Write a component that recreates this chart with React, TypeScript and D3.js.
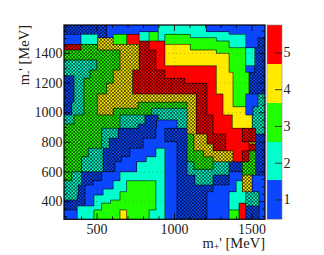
import React from 'react';
import * as d3 from 'd3';

const W = 324;
const H = 255;
const left = 64, right = 265, top = 25, bottom = 219.3;

const xRange = [290, 1572];
const yRange = [275, 1597];
const xAxisRange = [287, 1584];
const yAxisRange = [281, 1591.5];
const zRange = [0.474, 5.76];

const xTicks = [500, 1000, 1500];
const yTicks = [400, 600, 800, 1000, 1200, 1400];
const zTicks = [1, 2, 3, 4, 5];

const levelColors: Record<string, string> = {
  b: '#0a46ff',
  c: '#00ffcc',
  g: '#20ff00',
  y: '#ffea00',
  r: '#ff0000',
};
const paletteOrder = ['b', 'c', 'g', 'y', 'r'];

// lower edges of the m-' bands, first value is the top of the plot
const bandEdges = [
  1597, 1552, 1533, 1511, 1488, 1465, 1443, 1427, 1404, 1359, 1320, 1291, 1275, 1252, 1234, 1200, 1128, 1071, 1041,
  1030, 985, 951, 923, 894, 855, 826, 803, 787, 758, 742, 701, 667, 615, 599, 576, 538, 508, 481, 463, 440, 406, 384,
  366, 339, 275,
];

// one string per band: level letter + right edge in MeV, upper case = significance hatch
const bandRuns = [
  'B562 b891 c1198 b1572',
  'B562 b770 c833 g891 c1343 b1572',
  'b398 c504 B562 b604 g689 r770 c833 g891 c933 g1096 c1449 b1572',
  'b398 c504 Y604 g689 r770 c833 g891 c933 g1262 c1449 b1527 B1572',
  'b398 c504 Y604 g689 r770 R833 r933 g1343 c1449 b1527 B1572',
  'R398 G504 Y770 R833 r933 y1096 g1343 c1449 b1527 B1572',
  'R398 G504 Y770 R833 r933 y1096 g1449 c1506 B1572',
  'G647 Y770 R876 r933 y1262 g1449 c1506 B1572',
  'G647 Y770 R876 r933 y1343 g1449 c1506 B1572',
  'C498 G647 Y770 R876 r933 y1343 g1449 c1506 B1572',
  'C498 G647 Y770 R876 r1262 y1343 g1449 b1506 B1572',
  'C456 G604 Y727 R933 r1262 y1343 g1449 b1506 B1572',
  'C456 G604 Y727 R933 r1262 y1368 g1470 B1572',
  'B354 C456 G604 Y727 R933 r1262 y1368 g1470 B1572',
  'B354 C417 G604 Y727 R1060 r1262 y1368 g1470 B1572',
  'B354 C417 G562 Y727 R1202 r1262 y1368 g1470 B1572',
  'B354 C417 G502 Y1135 R1202 r1304 y1368 g1449 b1527 C1572',
  'B339 C417 G502 Y763 G1075 Y1135 R1202 r1304 y1368 g1449 b1527 C1572',
  'B339 C417 G502 Y763 G1075 Y1135 R1202 r1304 y1449 b1495 C1572',
  'B339 C417 G502 Y604 G848 C1075 Y1135 R1202 r1304 y1449 b1495 C1572',
  'C354 G647 C806 B891 C1075 Y1135 R1241 r1364 y1491 C1572',
  'C354 G647 C806 B880 b1011 C1075 Y1135 R1241 r1364 y1491 C1572',
  'G647 C763 B880 b1011 C1075 Y1135 R1241 r1364 y1491 C1572',
  'G530 C636 B876 b933 B1075 Y1135 R1241 r1428 R1512 C1572',
  'G530 C636 B876 b933 B1075 G1118 Y1202 R1321 r1428 R1512 B1572',
  'G530 C579 B795 b933 B1075 G1118 Y1202 R1321 r1428 R1512 B1572',
  'G530 C579 B795 b1011 B1075 G1118 Y1202 R1321 r1470 Y1512 B1572',
  'G530 C579 B795 b1011 B1075 G1118 Y1241 R1321 r1470 R1512 B1572',
  'G445 C540 B710 b876 c933 b1011 B1075 G1118 Y1241 R1321 r1470 R1512 B1572',
  'G445 C540 B710 b876 c933 b1011 B1075 G1181 Y1368 r1428 R1470 G1512 B1572',
  'G402 C540 B657 b816 c933 b1011 B1075 G1241 Y1368 r1428 R1470 G1512 B1572',
  'G402 C540 B615 b753 c933 b1011 B1075 C1118 G1241 C1343 B1428 G1512 B1572',
  'G402 C540 B615 b753 c933 b1011 B1075 C1343 B1428 G1512 B1572',
  'G339 C402 B530 b647 c933 b1011 B1075 C1343 b1428 G1512 B1572',
  'G339 C402 B530 b647 c933 b1011 B1124 C1241 B1343 b1428 Y1491 b1572',
  'C402 B477 b604 c689 g876 c933 b1011 B1124 C1241 B1343 b1389 c1428 Y1491 b1572',
  'C381 B424 b604 c689 g876 c933 b1011 B1241 b1389 c1428 Y1491 b1572',
  'C381 B424 b540 c689 g876 c933 b1011 B1241 b1389 c1428 Y1491 b1572',
  'C381 B424 b540 c647 g876 c933 b1011 B1202 b1343 c1449 C1534 b1572',
  'C375 B424 b481 c647 g876 c933 b1011 B1202 b1343 c1449 C1534 b1572',
  'B424 b481 c587 g876 c933 b1011 B1202 b1343 c1449 C1534 b1572',
  'B424 b481 c530 g876 c933 b1011 B1202 b1343 c1406 r1449 C1534 b1572',
  'B375 c530 g876 c933 b1011 B1202 b1343 c1406 r1449 B1534 b1572',
  'b375 c481 g647 y689 g833 c933 b1011 B1202 b1343 g1406 r1449 B1534 b1572',
];

const bands = bandRuns.map(row =>
  row.split(' ').map(t => ({ code: t[0], end: +t.slice(1) }))
);

const codeAt = (runs: { code: string; end: number }[], x: number) => {
  const r = runs.find(d => x < d.end);
  return r ? r.code : runs[runs.length - 1].code;
};

const App = () => {
  const x = d3.scaleLinear().domain(xRange).range([left, right]);
  const y = d3.scaleLinear().domain(yRange).range([bottom, top]);
  const xAxis = d3.scaleLinear().domain(xAxisRange).range([left, right]);
  const yAxis = d3.scaleLinear().domain(yAxisRange).range([bottom, top]);
  const z = d3.scaleLinear().domain(zRange).range([bottom, top]);

  // dark contour lines wherever two neighbouring cells differ
  const contour = d3.path();
  bands.forEach((runs, i) => {
    runs.forEach((r, j) => {
      if (j < runs.length - 1 && runs[j + 1].code !== r.code) {
        contour.moveTo(x(r.end), y(bandEdges[i]));
        contour.lineTo(x(r.end), y(bandEdges[i + 1]));
      }
    });
    if (i < bands.length - 1) {
      const edges = [xRange[0], ...runs.map(d => d.end), ...bands[i + 1].map(d => d.end)].sort(d3.ascending);
      d3.pairs(edges).forEach(([a, b]) => {
        if (b > a && codeAt(runs, (a + b) / 2) !== codeAt(bands[i + 1], (a + b) / 2)) {
          contour.moveTo(x(a), y(bandEdges[i + 1]));
          contour.lineTo(x(b), y(bandEdges[i + 1]));
        }
      });
    }
  });

  const xMinor = d3.range(300, 1584, 100);
  const yMinor = d3.range(300, 1591, 50);
  const font = "'Liberation Serif', serif";
  const step = (zRange[1] - zRange[0]) / paletteOrder.length;
  const cell = 3.4;

  return (
    <svg width={W} height={H} style={{ position: 'absolute', left: 0, top: 0 }} fontFamily={font}>
      <defs>
        {paletteOrder.map(k => (
          <pattern key={k} id={`hatch-${k}`} width={cell} height={cell} patternUnits="userSpaceOnUse">
            <rect width={cell} height={cell} fill={levelColors[k]} />
            <rect width={cell / 2} height={cell / 2} fill="#000" opacity={0.7} />
            <rect x={cell / 2} y={cell / 2} width={cell / 2} height={cell / 2} fill="#000" opacity={0.7} />
          </pattern>
        ))}
      </defs>
      <rect width={W} height={H} fill="#fff" />

      {bands.map((runs, i) =>
        runs.map((r, j) => {
          const x0 = j === 0 ? xRange[0] : runs[j - 1].end;
          const lower = r.code.toLowerCase();
          return (
            <rect
              key={`${i}-${j}`}
              x={x(x0)}
              y={y(bandEdges[i])}
              width={x(r.end) - x(x0)}
              height={y(bandEdges[i + 1]) - y(bandEdges[i])}
              fill={r.code === lower ? levelColors[lower] : `url(#hatch-${lower})`}
              shapeRendering="crispEdges"
            />
          );
        })
      )}
      <path d={contour.toString()} fill="none" stroke="#000" strokeOpacity={0.65} strokeWidth={0.9} />

      {xTicks.map(t => (
        <line key={t} x1={xAxis(t)} x2={xAxis(t)} y1={top} y2={bottom} stroke="#000" strokeOpacity={0.22} strokeDasharray="1,3" />
      ))}
      {yTicks.map(t => (
        <line key={t} x1={left} x2={right} y1={yAxis(t)} y2={yAxis(t)} stroke="#000" strokeOpacity={0.22} strokeDasharray="1,3" />
      ))}

      {/* ticks on all four sides, pointing inward */}
      {xMinor.map(t => {
        const len = xTicks.includes(t) ? 6 : 3;
        return (
          <g key={t} stroke="#000" strokeWidth={0.8}>
            <line x1={xAxis(t)} x2={xAxis(t)} y1={bottom} y2={bottom - len} />
            <line x1={xAxis(t)} x2={xAxis(t)} y1={top} y2={top + len} />
          </g>
        );
      })}
      {yMinor.map(t => {
        const len = yTicks.includes(t) ? 6 : 3;
        return (
          <g key={t} stroke="#000" strokeWidth={0.8}>
            <line x1={left} x2={left + len} y1={yAxis(t)} y2={yAxis(t)} />
            <line x1={right} x2={right - len} y1={yAxis(t)} y2={yAxis(t)} />
          </g>
        );
      })}
      <rect x={left} y={top} width={right - left} height={bottom - top} fill="none" stroke="#000" strokeWidth={1.2} />

      {xTicks.map(t => (
        <text key={t} x={xAxis(t)} y={233.5} textAnchor="middle" fontSize={14} fill="#222">{t}</text>
      ))}
      {yTicks.map(t => (
        <text key={t} x={62.5} y={yAxis(t) + 4.5} textAnchor="end" fontSize={14} fill="#222">{t}</text>
      ))}

      <text x={265} y={248} textAnchor="end" fontSize={14.5} fill="#222">
        m<tspan fontSize={10} dy={2}>+</tspan><tspan dy={-2}>' [MeV]</tspan>
      </text>
      <text transform={`translate(29,${top}) rotate(-90)`} textAnchor="end" fontSize={14.5} fill="#222">
        m<tspan fontSize={10} dy={2}>-</tspan><tspan dy={-2}>' [MeV]</tspan>
      </text>

      {/* colour palette */}
      {paletteOrder.map((k, i) => (
        <rect
          key={k}
          x={267}
          y={z(zRange[0] + (i + 1) * step)}
          width={15}
          height={z(zRange[0] + i * step) - z(zRange[0] + (i + 1) * step)}
          fill={levelColors[k]}
          shapeRendering="crispEdges"
        />
      ))}
      <rect x={267} y={top} width={15} height={bottom - top} fill="none" stroke="#888" strokeWidth={0.6} />
      {zTicks.map(t => (
        <g key={t}>
          <line x1={275} x2={282} y1={z(t)} y2={z(t)} stroke="#222" strokeWidth={0.9} />
          <text x={283.5} y={z(t) + 4.5} fontSize={14} fill="#222">{t}</text>
        </g>
      ))}
    </svg>
  );
};

export default App;
